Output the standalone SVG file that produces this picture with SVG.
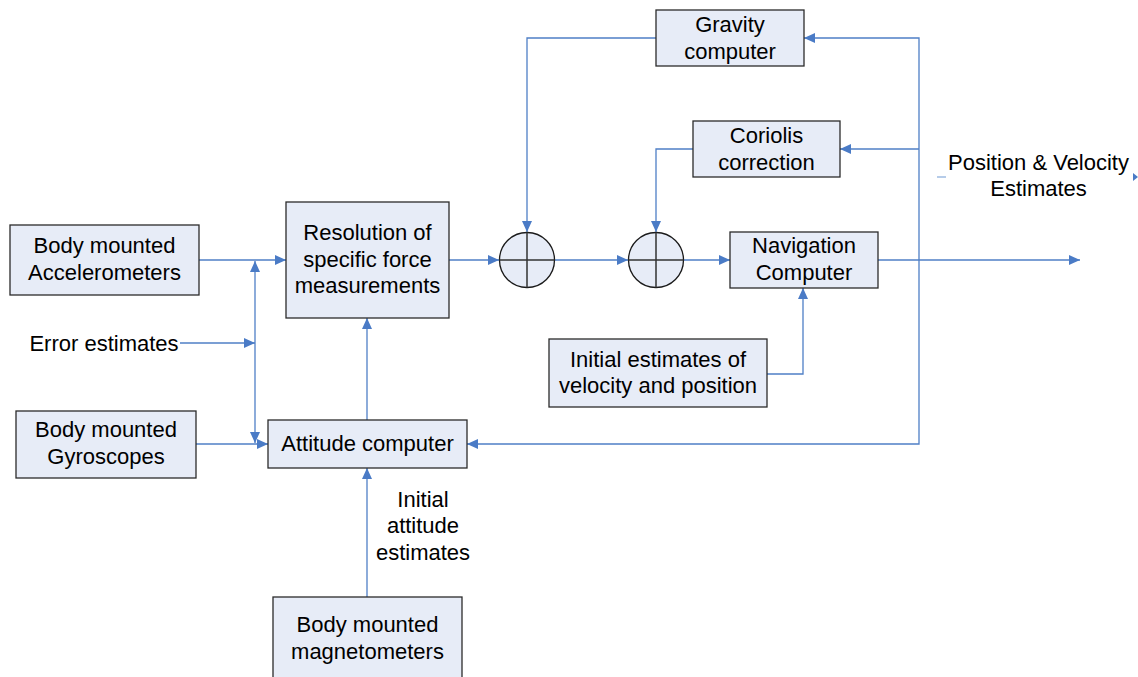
<svg xmlns="http://www.w3.org/2000/svg" width="1138" height="677" viewBox="0 0 1138 677">
<style>
.box{fill:#e7ecf7;stroke:#2b2b2b;stroke-width:1.3}
.sum{fill:#e7ecf7;stroke:#1a1a1a;stroke-width:1.3}
.cross{stroke:#333;stroke-width:1.5}
.t{font-family:"Liberation Sans",Arial,sans-serif;font-size:22px;fill:#000;text-anchor:middle}
.c{fill:none;stroke:#4f7fc6;stroke-width:1.3}
</style>
<defs>
<marker id="ah" markerUnits="userSpaceOnUse" markerWidth="11" markerHeight="10" refX="11" refY="5" orient="auto">
<path d="M0,0 L11,5 L0,10 z" fill="#4a7bc6"/>
</marker>
</defs>
<rect width="1138" height="677" fill="#fff"/>
<g id="connectors">
<path class="c" d="M199,260 H286" marker-end="url(#ah)"/>
<path class="c" d="M180,343 H255" marker-end="url(#ah)"/>
<path class="c" d="M255,343 V261" marker-end="url(#ah)"/>
<path class="c" d="M255,343 V443" marker-end="url(#ah)"/>
<path class="c" d="M196,444 H268" marker-end="url(#ah)"/>
<path class="c" d="M367,420 V318" marker-end="url(#ah)"/>
<path class="c" d="M367,597 V468" marker-end="url(#ah)"/>
<path class="c" d="M449,260 H499" marker-end="url(#ah)"/>
<path class="c" d="M555,260 H628" marker-end="url(#ah)"/>
<path class="c" d="M684,260 H730" marker-end="url(#ah)"/>
<path class="c" d="M656,38 H527 V232" marker-end="url(#ah)"/>
<path class="c" d="M693,149 H656 V232" marker-end="url(#ah)"/>
<path class="c" d="M878,260 H1080" marker-end="url(#ah)"/>
<path class="c" d="M919,260 V38 H804" marker-end="url(#ah)"/>
<path class="c" d="M919,149 H840" marker-end="url(#ah)"/>
<path class="c" d="M919,260 V444 H467" marker-end="url(#ah)"/>
<path class="c" d="M767,374 H803 V288" marker-end="url(#ah)"/>
<path d="M937,177 H946" stroke="#8fb0de" stroke-width="1.3"/>
<path d="M1133,173 L1138,177 L1133,181 z" fill="#4a7bc6"/>
</g>
<g id="accelerometers">
<rect class="box" x="10" y="225" width="189" height="70"/>
<text class="t" x="104.5" y="253">Body mounted</text>
<text class="t" x="104.5" y="280">Accelerometers</text>
</g>
<g id="error-estimates">
<text class="t" x="104" y="351">Error estimates</text>
</g>
<g id="gyroscopes">
<rect class="box" x="16" y="411" width="180" height="67"/>
<text class="t" x="106" y="437">Body mounted</text>
<text class="t" x="106" y="464">Gyroscopes</text>
</g>
<g id="resolution">
<rect class="box" x="286" y="202" width="163" height="116"/>
<text class="t" x="367.5" y="240">Resolution of</text>
<text class="t" x="367.5" y="267">specific force</text>
<text class="t" x="367.5" y="293">measurements</text>
</g>
<g id="attitude">
<rect class="box" x="268" y="420" width="199" height="48"/>
<text class="t" x="367.5" y="451">Attitude computer</text>
</g>
<g id="initial-attitude">
<text class="t" x="423" y="507">Initial</text>
<text class="t" x="423" y="533">attitude</text>
<text class="t" x="423" y="560">estimates</text>
</g>
<g id="magnetometers">
<rect class="box" x="273" y="597" width="189" height="90"/>
<text class="t" x="367.5" y="632">Body mounted</text>
<text class="t" x="367.5" y="659">magnetometers</text>
</g>
<g id="sum1">
<circle class="sum" cx="527" cy="260" r="27.5"/>
<path class="cross" d="M499.5,260 H554.5 M527,232.5 V287.5"/>
</g>
<g id="sum2">
<circle class="sum" cx="656" cy="260" r="27.5"/>
<path class="cross" d="M628.5,260 H683.5 M656,232.5 V287.5"/>
</g>
<g id="gravity">
<rect class="box" x="656" y="10" width="148" height="56"/>
<text class="t" x="730" y="32">Gravity</text>
<text class="t" x="730" y="59">computer</text>
</g>
<g id="coriolis">
<rect class="box" x="693" y="121" width="147" height="56"/>
<text class="t" x="766.5" y="143">Coriolis</text>
<text class="t" x="766.5" y="170">correction</text>
</g>
<g id="navigation">
<rect class="box" x="730" y="232" width="148" height="56"/>
<text class="t" x="804" y="253">Navigation</text>
<text class="t" x="804" y="280">Computer</text>
</g>
<g id="initial-estimates">
<rect class="box" x="549" y="339" width="218" height="68"/>
<text class="t" x="658" y="367">Initial estimates of</text>
<text class="t" x="658" y="393">velocity and position</text>
</g>
<g id="pos-vel-label">
<text class="t" x="1038.5" y="170">Position &amp; Velocity</text>
<text class="t" x="1038.5" y="196">Estimates</text>
</g>
</svg>
